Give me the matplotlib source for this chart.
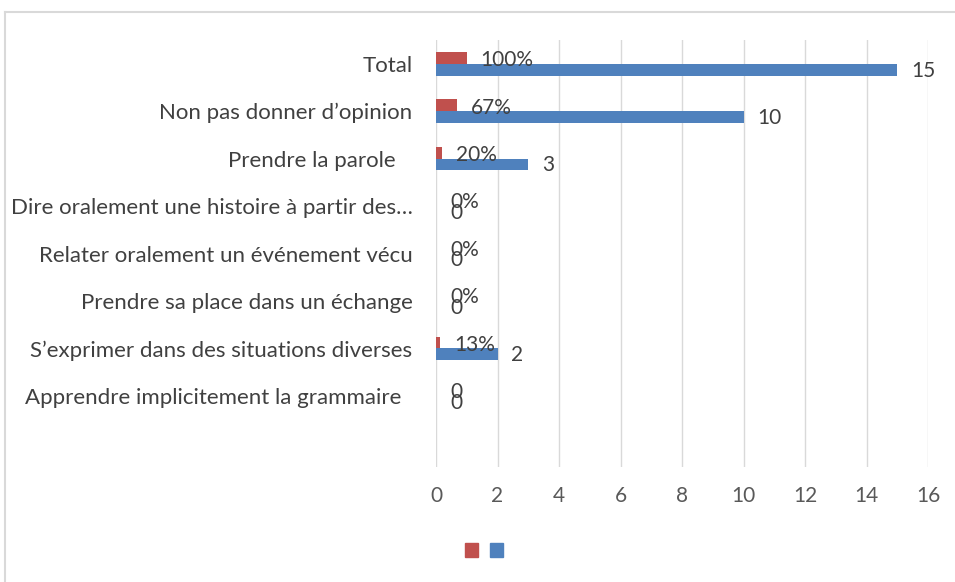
import matplotlib.pyplot as plt
from matplotlib.lines import Line2D
from matplotlib.patches import Patch

plt.rcParams['font.family'] = ['Lato', 'DejaVu Sans']

# categories top to bottom (last slot is empty in the original)
categories = ['Total', 'Non pas donner d\u2019opinion', 'Prendre la parole   ',
              'Dire oralement une histoire \u00e0 partir des\u2026',
              'Relater oralement un \u00e9v\u00e9nement v\u00e9cu',
              'Prendre sa place dans un \u00e9change',
              'S\u2019exprimer dans des situations diverses',
              'Apprendre implicitement la grammaire  ', '']
pct_values = [1.0, 0.67, 0.20, 0, 0, 0, 0.13, 0]
pct_labels = ['100%', '67%', '20%', '0%', '0%', '0%', '13%', '0']
count_values = [15, 10, 3, 0, 0, 0, 2, 0]
count_labels = ['15', '10', '3', '0', '0', '0', '2', '0']

red = '#C0504D'
blue = '#4F81BD'
txt = '#404040'

fig = plt.figure(figsize=(9.55, 5.82), dpi=100)
ax = fig.add_axes([436 / 955, 1 - 467 / 582, (928 - 436) / 955, (467 - 40) / 582])

n = len(pct_values)
pos = list(range(n))
h = 0.25
ax.barh([p - h / 2 for p in pos], pct_values, height=h, color=red, zorder=3)
ax.barh([p + h / 2 for p in pos], count_values, height=h, color=blue, zorder=3)

for p, v, lab in zip(pos, pct_values, pct_labels):
    ax.annotate(lab, (v, p - h / 2 + 0.05), xytext=(10, 0), textcoords='offset points',
                ha='left', va='center', fontsize=15, color=txt)
for p, v, lab in zip(pos, count_values, count_labels):
    ax.annotate(lab, (v, p + h / 2 + 0.02), xytext=(10, 0), textcoords='offset points',
                ha='left', va='center', fontsize=15, color=txt)

ax.set_xlim(0, 16)
ax.set_xticks(range(0, 17, 2))
ax.set_ylim(len(categories) - 0.5, -0.5)
ax.set_yticks(range(len(categories)))
ax.set_yticklabels(categories, fontsize=16, color=txt)
ax.tick_params(axis='y', length=0, pad=17)
ax.tick_params(axis='x', length=0, pad=14, labelsize=15, labelcolor='#595959')
ax.grid(axis='x', color='#D9D9D9', linewidth=1, zorder=0)
for s in ax.spines.values():
    s.set_visible(False)

handles = [Patch(color=red), Patch(color=blue)]
fig.legend(handles, ['', ''], loc='center', bbox_to_anchor=(484 / 955, 1 - 551 / 582),
           ncol=2, frameon=False, handlelength=0.7, handleheight=0.7,
           columnspacing=0.6, handletextpad=0.0, fontsize=14)

# light frame of the chart area
fig.add_artist(Line2D([5 / 955, 1], [1 - 12 / 582] * 2, color='#D9D9D9', lw=1.5))
fig.add_artist(Line2D([5 / 955] * 2, [0, 1 - 12 / 582], color='#D9D9D9', lw=1.5))

fig.savefig('out.png', dpi=100)
